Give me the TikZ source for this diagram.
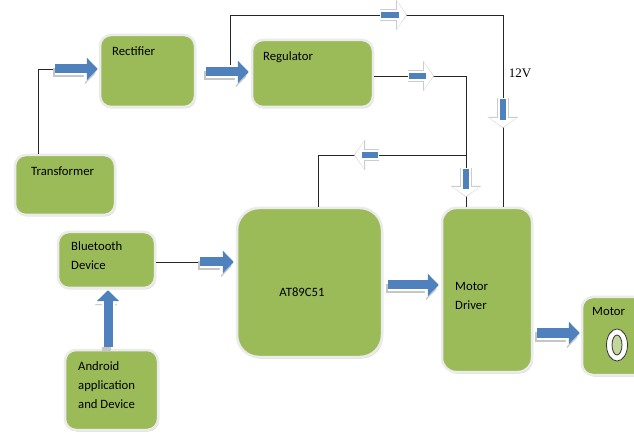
\documentclass[tikz,border=0pt]{standalone}
\usepackage{fontspec}
\setmainfont{Carlito}
\newfontfamily\voltfont{Liberation Serif}
\usetikzlibrary{arrows.meta,shadows}
\definecolor{boxgreen}{HTML}{9BBB59}
\definecolor{arrowblue}{HTML}{4F81BD}

% block arrows: shadow, white rim, blue body
\newcommand\bigarr[3][]{%
	\draw[bigshadow,#1] #2 -- #3;
	\draw[bigrim,#1] #2 -- #3;
	\draw[bigbody,#1] #2 -- #3;}
% small arrows on the supply wires
\newcommand\smallarr[2]{%
	\draw[smallrim] #1 -- #2;
	\draw[smallhead] #1 -- #2;
	\draw[smallbody] #1 -- #2;}

\begin{document}
\begin{tikzpicture}[x=1pt,y=-1pt,
	blk/.style={draw=white!92!black, line width=2.5pt, fill=boxgreen, rounded corners=11pt,
		drop shadow={shadow xshift=1pt, shadow yshift=-1.5pt, opacity=.35}},
	txt/.style={anchor=north west, inner sep=0pt, align=left, font=\fontsize{12.7}{19}\selectfont},
	wire/.style={line width=0.8pt, black!85},
	bigshadow/.style={draw=gray!45, line width=9pt, -{Triangle[length=11pt,width=22pt]},
		transform canvas={shift={(-2pt,-4pt)}}},
	bigrim/.style={draw=white, line width=13pt, -{Triangle[length=14pt,width=28pt]}},
	bigbody/.style={draw=arrowblue, line width=9pt, -{Triangle[length=11pt,width=22pt]}},
	smallrim/.style={draw=gray!40, line width=12pt, -{Triangle[length=11pt,width=30pt]}},
	smallhead/.style={draw=white, line width=9.5pt, -{Triangle[length=9pt,width=26pt]}, shorten >=0.8pt},
	smallbody/.style={draw=arrowblue, line width=6pt, shorten >=8pt, shorten <=1pt}]

	\path[fill=white, use as bounding box] (0,0) rectangle (634,435);

	% boxes
	\node[blk, minimum width=100pt, minimum height=60pt] (trans) at (65,185) {};
	\node[blk, minimum width=95pt, minimum height=72pt] (rect) at (147.5,71) {};
	\node[blk, minimum width=121pt, minimum height=67pt] (reg) at (312.5,73.5) {};
	\node[blk, minimum width=97pt, minimum height=56pt] (bt) at (106.5,260) {};
	\node[blk, minimum width=93pt, minimum height=80pt] (andr) at (111.5,390) {};
	\node[blk, minimum width=145pt, minimum height=149pt, rounded corners=22pt] (mcu) at (309.5,282.5) {};
	\node[blk, minimum width=90pt, minimum height=164pt, rounded corners=14pt] (drv) at (487,290) {};
	\node[blk, minimum width=68pt, minimum height=78pt] (mot) at (616,336) {};

	% texts
	\node[txt] (transT) at (31,167) {Transformer};
	\node[txt] (rectT) at (112,47) {Rectifier};
	\node[txt] (regT) at (263,51) {Regulator};
	\node[txt] (btT) at (71,241) {Bluetooth\\Device};
	\node[txt] (andrT) at (78,361) {Android\\application\\and Device};
	\node[txt, anchor=center] (mcuT) at (302,292) {AT89C51};
	\node[txt] (drvT) at (455,282) {Motor\\Driver};
	\node[txt] (motT) at (592,307) {Motor};
	\node[font=\voltfont\fontsize{13}{15}\selectfont, inner sep=0pt] (volt) at (520,73) {12V};

	% motor symbol
	\draw[fill=white, draw=black!80, line width=0.8pt] (617,345) ellipse (10.5 and 16);
	\draw[fill=boxgreen!60!white, draw=black!80, line width=0.8pt] (617,345) ellipse (5 and 10);

	% wires
	\coordinate (tr) at (38,69);
	\coordinate (inA) at (55,69);
	\draw[wire] (trans.north -| tr) -- (tr) -- (inA);

	\coordinate (tap) at (230,72);
	\coordinate (v12) at (503,15);
	\draw[wire] (tap) |- (v12) -- (v12 |- drv.north);

	\coordinate (rg) at (466,76);
	\draw[wire] (reg.east |- rg) -- (rg) -- (rg |- drv.north);

	\coordinate (br) at (466,155);
	\coordinate (mc) at (318,155);
	\draw[wire] (br) -- (mc) -- (mc |- mcu.north);

	\coordinate (bta) at (200,262);
	\draw[wire] (bt.east |- bta) -- (bta);

	% block arrows
	\bigarr[shorten >=1pt]{(inA)}{(inA -| rect.west)}
	\coordinate (ra) at (206,72);
	\bigarr[shorten >=2pt]{(ra)}{(ra -| reg.west)}
	\bigarr[shorten >=2pt]{(bta)}{(bta -| mcu.west)}
	\coordinate (ma) at (388,285);
	\bigarr[shorten >=2pt]{(ma)}{(ma -| drv.west)}
	\coordinate (da) at (537,333);
	\bigarr[shorten >=1pt]{(da)}{(da -| mot.west)}
	\coordinate (aa) at (108,347);
	\bigarr[shorten >=1pt]{(aa)}{(aa |- bt.south)}

	% small arrows on the wires
	\smallarr{(380,15)}{(407,15)}
	\smallarr{(503,98)}{(503,128)}
	\smallarr{(408,76)}{(434,76)}
	\smallarr{(379,155)}{(354,155)}
	\smallarr{(466,168)}{(466,197)}
\end{tikzpicture}
\end{document}
